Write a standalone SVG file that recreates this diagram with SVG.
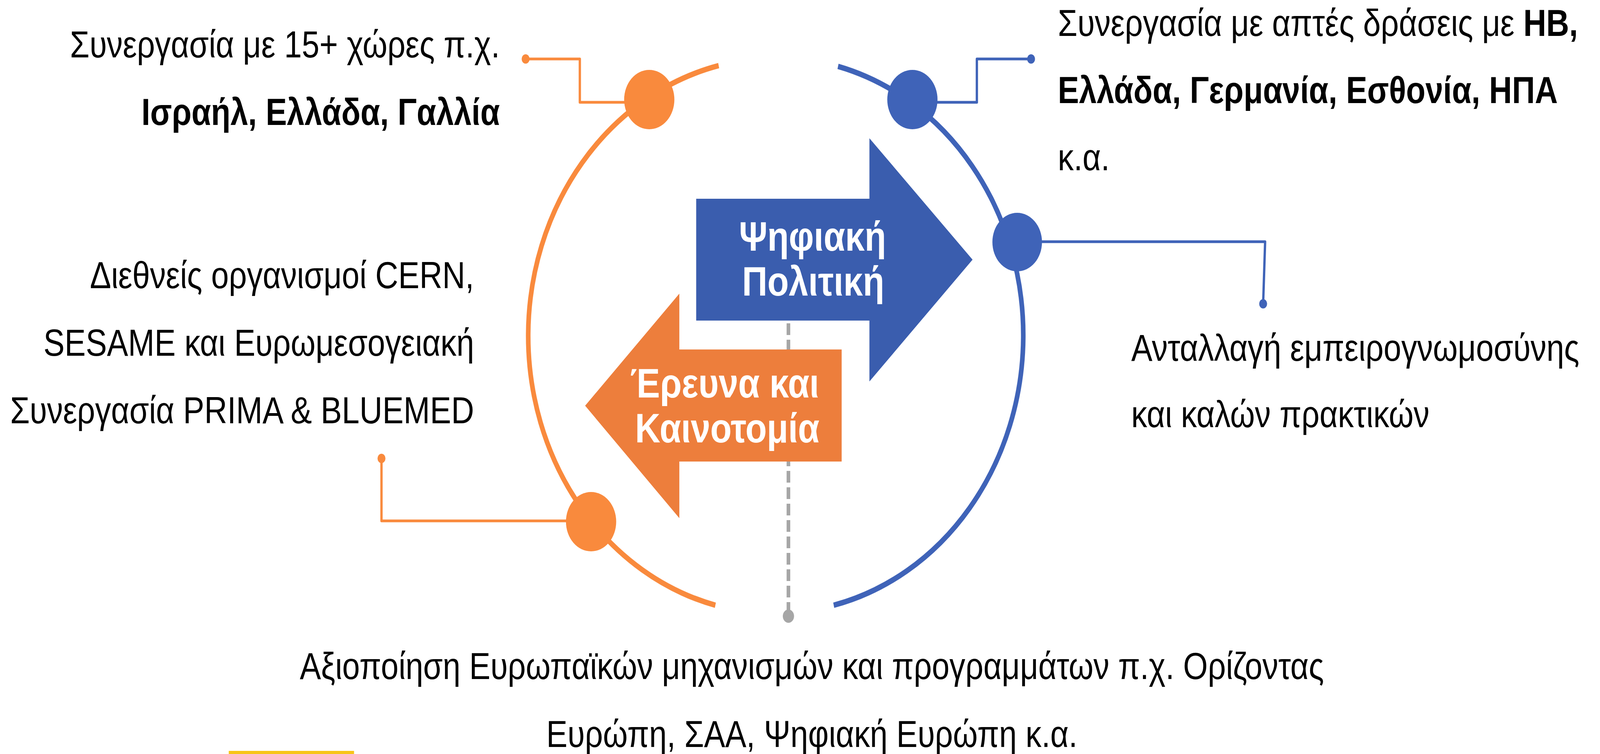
<svg xmlns="http://www.w3.org/2000/svg" width="4840" height="1931" viewBox="0 0 4840 1931" preserveAspectRatio="none">
<style>
svg{width:100vw;height:100vh}
.t{font-family:"Liberation Sans",Arial,sans-serif;font-size:96px;fill:#000}
.b{font-weight:bold}
.w{font-family:"Liberation Sans",Arial,sans-serif;font-size:106px;font-weight:bold;fill:#fff;text-anchor:middle}
.ol{fill:none;stroke:#F98A3D;stroke-width:7;stroke-linejoin:round}
.bl{fill:none;stroke:#3F63B8;stroke-width:7;stroke-linejoin:round}
.oa{fill:none;stroke:#F98A3D;stroke-width:14}
.ba{fill:none;stroke:#3F63B8;stroke-width:14}
.of{fill:#F98A3D}
.bf{fill:#3F63B8}
</style>
<rect width="4840" height="1931" fill="#fff"/>
<g id="connectors">
<path class="oa" d="M 2174 168 A 747 711 0 0 0 2164 1550"/>
<path class="ba" d="M 2535 170 A 747 711 0 0 1 2522 1550"/>
<polyline class="ol" points="1964,262 1754,262 1754,151 1590,151"/>
<circle class="of" cx="1590" cy="151" r="12"/>
<polyline class="bl" points="2760,262 2955,262 2955,151 3119,151"/>
<circle class="bf" cx="3119" cy="151" r="12"/>
<polyline class="bl" points="3077,619 3827,619 3821,778"/>
<circle class="bf" cx="3821" cy="778" r="12"/>
<polyline class="ol" points="1788,1334 1154,1334 1154,1174"/>
<circle class="of" cx="1154" cy="1174" r="12"/>
<line x1="2385" y1="821" x2="2385" y2="1578" stroke="#A6A6A6" stroke-width="11" stroke-dasharray="30 12" stroke-dashoffset="35"/>
<circle cx="2385" cy="1578" r="17" fill="#A6A6A6"/>
</g>
<g id="node-orange-top"><circle class="of" cx="1964" cy="255" r="76"/></g>
<g id="node-blue-top"><circle class="bf" cx="2760" cy="255" r="76"/></g>
<g id="node-blue-right"><circle class="bf" cx="3077" cy="620" r="75"/></g>
<g id="node-orange-bottom"><circle class="of" cx="1788" cy="1336" r="76"/></g>
<g id="arrow-digital">
<polygon points="2106,509 2630,509 2630,354 2942,665 2630,977 2630,821 2106,821" fill="#3A5DAE"/>
<text class="w" x="2458" y="642">Ψηφιακή</text>
<text class="w" x="2460" y="757">Πολιτική</text>
</g>
<g id="arrow-research">
<polygon points="2546,895 2055,895 2055,752 1770,1039 2055,1327 2055,1182 2546,1182" fill="#ED7E3C"/>
<text class="w" x="2192" y="1018">Έρευνα και</text>
<text class="w" x="2200" y="1133">Καινοτομία</text>
</g>
<g id="text-left-top" class="t" text-anchor="end">
<text x="1512" y="147">Συνεργασία με 15+ χώρες π.χ.</text>
<text x="1512" y="320" class="b">Ισραήλ, Ελλάδα, Γαλλία</text>
</g>
<g id="text-left-mid" class="t" text-anchor="end">
<text x="1434" y="738">Διεθνείς οργανισμοί CERN,</text>
<text x="1434" y="911">SESAME και Ευρωμεσογειακή</text>
<text x="1434" y="1084">Συνεργασία PRIMA &amp; BLUEMED</text>
</g>
<g id="text-right-top" class="t">
<text x="3200" y="92">Συνεργασία με απτές δράσεις με <tspan class="b">HB,</tspan></text>
<text x="3200" y="264" class="b">Ελλάδα, Γερμανία, Εσθονία, ΗΠΑ</text>
<text x="3200" y="436">κ.α.</text>
</g>
<g id="text-right-mid" class="t">
<text x="3422" y="924">Ανταλλαγή εμπειρογνωμοσύνης</text>
<text x="3422" y="1094">και καλών πρακτικών</text>
</g>
<g id="text-bottom" class="t" text-anchor="middle">
<text x="2456" y="1739">Αξιοποίηση Ευρωπαϊκών μηχανισμών και προγραμμάτων π.χ. Ορίζοντας</text>
<text x="2456" y="1913">Ευρώπη, ΣΑΑ, Ψηφιακή Ευρώπη κ.α.</text>
</g>
<rect x="692" y="1923" width="379" height="8" fill="#F7C518"/>
</svg>
